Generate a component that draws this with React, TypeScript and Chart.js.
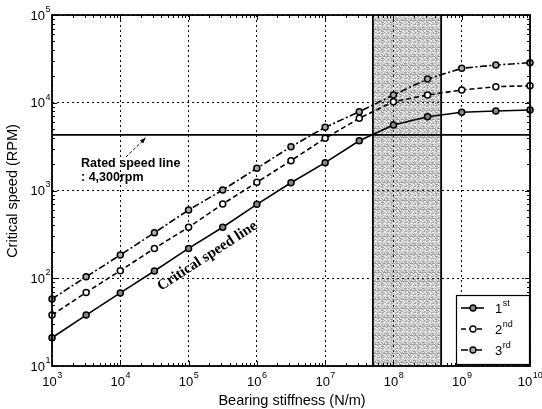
import { useEffect, useRef } from "react";
import { Chart, registerables } from "chart.js";

Chart.register(...registerables);

// ---- data ----
const stiffness = [1e3, 3.16e3, 1e4, 3.16e4, 1e5, 3.16e5, 1e6, 3.16e6, 1e7, 3.16e7, 1e8, 3.16e8, 1e9, 3.16e9, 1e10];
const mode1 = [21, 38, 68, 121, 219, 381, 696, 1227, 2075, 3690, 5570, 6935, 7780, 8050, 8260];
const mode2 = [38, 69, 122, 219, 381, 701, 1238, 2188, 3936, 6650, 10280, 12250, 13960, 15230, 15640];
const mode3 = [58, 104, 184, 330, 600, 1014, 1791, 3156, 5250, 7900, 12250, 18660, 24700, 26900, 28600];
const ratedSpeed = 4300;
const shadeRange = [5e7, 5e8];
const xExponents = [3, 4, 5, 6, 7, 8, 9, 10];
const yExponents = [1, 2, 3, 4, 5];
const legendLabels: [string, string][] = [["1", "st"], ["2", "nd"], ["3", "rd"]];
const xTitle = "Bearing stiffness (N/m)";
const yTitle = "Critical speed (RPM)";
const ratedText1 = "Rated speed line";
const ratedText2 = ": 4,300rpm";
const criticalText = "Critical speed line";

const SANS = '"Liberation Sans", Arial, Helvetica, sans-serif';
const SERIF = '"Liberation Serif", "Times New Roman", serif';

function isDecade(v: number) {
  const l = Math.log10(v);
  return Math.abs(l - Math.round(l)) < 1e-6;
}

function makePattern(ctx: CanvasRenderingContext2D) {
  const n = 9;
  const c = document.createElement("canvas");
  c.width = n;
  c.height = n;
  const g = c.getContext("2d")!;
  for (let i = 0; i < n; i++) {
    for (let j = 0; j < n; j++) {
      const s = 150 + ((i * 37 + j * 53 + ((i * j) % 5) * 29) % 95);
      g.fillStyle = `rgb(${s},${s},${s})`;
      g.fillRect(i, j, 1, 1);
    }
  }
  return ctx.createPattern(c, "repeat")!;
}

function drawPow(ctx: CanvasRenderingContext2D, exp: number, x: number, y: number, align: "center" | "right") {
  ctx.font = `13px ${SANS}`;
  const w1 = ctx.measureText("10").width;
  ctx.font = `9px ${SANS}`;
  const w2 = ctx.measureText(String(exp)).width;
  const left = align === "center" ? x - (w1 + w2) / 2 : x - w1;
  ctx.textAlign = "left";
  ctx.textBaseline = "middle";
  ctx.fillStyle = "#000";
  ctx.font = `13px ${SANS}`;
  ctx.fillText("10", left, y);
  ctx.font = `9px ${SANS}`;
  ctx.fillText(String(exp), left + w1 + 0.5, y - 6.5);
}

const decorPlugin = {
  id: "decor",
  beforeDraw(chart: any) {
    const { ctx, chartArea: a, scales } = chart;
    const x = scales.x;
    const x1 = x.getPixelForValue(shadeRange[0]);
    const x2 = x.getPixelForValue(shadeRange[1]);
    ctx.save();
    ctx.fillStyle = makePattern(ctx);
    ctx.fillRect(x1, a.top, x2 - x1, a.bottom - a.top);
    ctx.restore();
  },
  beforeDatasetsDraw(chart: any) {
    const { ctx, chartArea: a, scales } = chart;
    const x = scales.x;
    ctx.save();
    ctx.strokeStyle = "#000";
    ctx.lineWidth = 1.8;
    for (const v of shadeRange) {
      const px = x.getPixelForValue(v);
      ctx.beginPath();
      ctx.moveTo(px, a.top);
      ctx.lineTo(px, a.bottom);
      ctx.stroke();
    }
    ctx.restore();
  },
  afterDatasetsDraw(chart: any) {
    const { ctx, chartArea: a, scales } = chart;
    const x = scales.x;
    const y = scales.y;
    ctx.save();

    // frame
    ctx.strokeStyle = "#000";
    ctx.lineWidth = 1.8;
    ctx.strokeRect(a.left, a.top, a.right - a.left, a.bottom - a.top);

    // tick marks (inward, all sides)
    ctx.lineWidth = 1;
    for (let k = xExponents[0]; k <= xExponents[xExponents.length - 1]; k++) {
      for (let m = 1; m <= 9; m++) {
        const v = m * Math.pow(10, k);
        if (v > x.max * 1.0001) break;
        const px = Math.round(x.getPixelForValue(v)) + 0.5;
        const len = m === 1 ? 5 : 3;
        ctx.beginPath();
        ctx.moveTo(px, a.bottom);
        ctx.lineTo(px, a.bottom - len);
        ctx.moveTo(px, a.top);
        ctx.lineTo(px, a.top + len);
        ctx.stroke();
      }
    }
    for (let k = yExponents[0]; k <= yExponents[yExponents.length - 1]; k++) {
      for (let m = 1; m <= 9; m++) {
        const v = m * Math.pow(10, k);
        if (v > y.max * 1.0001) break;
        const py = Math.round(y.getPixelForValue(v)) + 0.5;
        const len = m === 1 ? 5 : 3;
        ctx.beginPath();
        ctx.moveTo(a.left, py);
        ctx.lineTo(a.left + len, py);
        ctx.moveTo(a.right, py);
        ctx.lineTo(a.right - len, py);
        ctx.stroke();
      }
    }

    // tick labels
    for (const e of xExponents) {
      drawPow(ctx, e, x.getPixelForValue(Math.pow(10, e)), a.bottom + 16, "center");
    }
    for (const e of yExponents) {
      drawPow(ctx, e, a.left - 7, y.getPixelForValue(Math.pow(10, e)) + 1, "right");
    }

    // axis titles
    ctx.fillStyle = "#000";
    ctx.font = `14.5px ${SANS}`;
    ctx.textAlign = "center";
    ctx.textBaseline = "middle";
    ctx.fillText(xTitle, (a.left + a.right) / 2 + 1, a.bottom + 35);
    ctx.save();
    ctx.translate(13, (a.top + a.bottom) / 2 + 0.5);
    ctx.rotate(-Math.PI / 2);
    ctx.fillText(yTitle, 0, 0);
    ctx.restore();

    // rated speed annotation
    ctx.font = `bold 12.5px ${SANS}`;
    ctx.textAlign = "left";
    ctx.textBaseline = "alphabetic";
    ctx.fillText(ratedText1, 81, 167);
    ctx.fillText(ratedText2, 81, 181);
    // arrow
    const ax1 = 126, ay1 = 157, ax2 = 145.5, ay2 = 138;
    ctx.lineWidth = 1;
    ctx.setLineDash([3, 2]);
    ctx.beginPath();
    ctx.moveTo(ax1, ay1);
    ctx.lineTo(ax2, ay2);
    ctx.stroke();
    ctx.setLineDash([]);
    const ang = Math.atan2(ay2 - ay1, ax2 - ax1);
    ctx.beginPath();
    ctx.moveTo(ax2, ay2);
    ctx.lineTo(ax2 - 6 * Math.cos(ang - 0.4), ay2 - 6 * Math.sin(ang - 0.4));
    ctx.lineTo(ax2 - 6 * Math.cos(ang + 0.4), ay2 - 6 * Math.sin(ang + 0.4));
    ctx.closePath();
    ctx.fill();

    // critical speed line label
    ctx.save();
    ctx.translate(161, 291);
    ctx.rotate((-33 * Math.PI) / 180);
    ctx.font = `bold 15px ${SERIF}`;
    ctx.textAlign = "left";
    ctx.textBaseline = "alphabetic";
    ctx.fillText(criticalText, 0, 0);
    ctx.restore();

    // legend
    const lx = 456, ly = 295, lw = 73, lh = 69;
    ctx.fillStyle = "#fff";
    ctx.fillRect(lx, ly, lw, lh);
    ctx.strokeStyle = "#000";
    ctx.lineWidth = 1.2;
    ctx.strokeRect(lx + 0.5, ly + 0.5, lw, lh);
    const rows = [308, 329, 350];
    legendLabels.forEach(([num, sup], i) => {
      const ds = chart.data.datasets[i];
      const ry = rows[i];
      ctx.strokeStyle = "#000";
      ctx.lineWidth = ds.borderWidth;
      ctx.setLineDash(ds.borderDash || []);
      ctx.beginPath();
      ctx.moveTo(461, ry);
      ctx.lineTo(484, ry);
      ctx.stroke();
      ctx.setLineDash([]);
      ctx.beginPath();
      ctx.arc(473, ry, 3, 0, Math.PI * 2);
      ctx.fillStyle = ds.pointBackgroundColor;
      ctx.fill();
      ctx.lineWidth = 1.3;
      ctx.stroke();
      ctx.fillStyle = "#000";
      ctx.textBaseline = "middle";
      ctx.font = `13px ${SANS}`;
      ctx.fillText(num, 495, ry + 1);
      const w = ctx.measureText(num).width;
      ctx.font = `9px ${SANS}`;
      ctx.fillText(sup, 495 + w + 0.5, ry - 4);
    });

    ctx.restore();
  },
};

export default function App() {
  const ref = useRef<HTMLCanvasElement>(null);

  useEffect(() => {
    const canvas = ref.current!;
    const toPts = (ys: number[]) => stiffness.map((s, i) => ({ x: s, y: ys[i] }));
    const common = {
      borderColor: "#000",
      borderWidth: 1.6,
      pointRadius: 3,
      pointBorderWidth: 1.5,
      pointBorderColor: "#000",
      tension: 0,
      clip: false as const,
    };
    const chart = new Chart(canvas, {
      type: "line",
      data: {
        datasets: [
          { ...common, label: "1st", data: toPts(mode1), pointBackgroundColor: "#888" },
          { ...common, label: "2nd", data: toPts(mode2), borderDash: [5, 3], pointBackgroundColor: "#fff" },
          { ...common, label: "3rd", data: toPts(mode3), borderDash: [7, 2.5, 2, 2.5], pointBackgroundColor: "#aaa" },
          {
            label: "rated",
            data: [
              { x: stiffness[0], y: ratedSpeed },
              { x: stiffness[stiffness.length - 1], y: ratedSpeed },
            ],
            borderColor: "#000",
            borderWidth: 1.6,
            pointRadius: 0,
          },
        ],
      },
      options: {
        responsive: false,
        animation: false,
        devicePixelRatio: 1,
        layout: { padding: { left: 0, top: 15, right: 12, bottom: 0 } },
        plugins: { legend: { display: false }, tooltip: { enabled: false } },
        scales: {
          x: {
            type: "logarithmic",
            min: 1e3,
            max: 1e10,
            ticks: { display: false },
            grid: {
              drawTicks: false,
              lineWidth: 1,
              color: (c: any) => (c.tick && isDecade(c.tick.value) ? "#000" : "rgba(0,0,0,0)"),
            },
            border: { display: false, dash: [2, 3] },
            afterFit: (s: any) => {
              s.height = 43;
            },
          },
          y: {
            type: "logarithmic",
            min: 10,
            max: 1e5,
            ticks: { display: false },
            grid: {
              drawTicks: false,
              lineWidth: 1,
              color: (c: any) => (c.tick && isDecade(c.tick.value) ? "#000" : "rgba(0,0,0,0)"),
            },
            border: { display: false, dash: [2, 3] },
            afterFit: (s: any) => {
              s.width = 52;
            },
          },
        },
      },
      plugins: [decorPlugin],
    });
    return () => chart.destroy();
  }, []);

  return (
    <div style={{ position: "fixed", left: 0, top: 0, width: 542, height: 409, background: "#fff" }}>
      <canvas ref={ref} width={542} height={409} style={{ display: "block", width: 542, height: 409 }} />
    </div>
  );
}
